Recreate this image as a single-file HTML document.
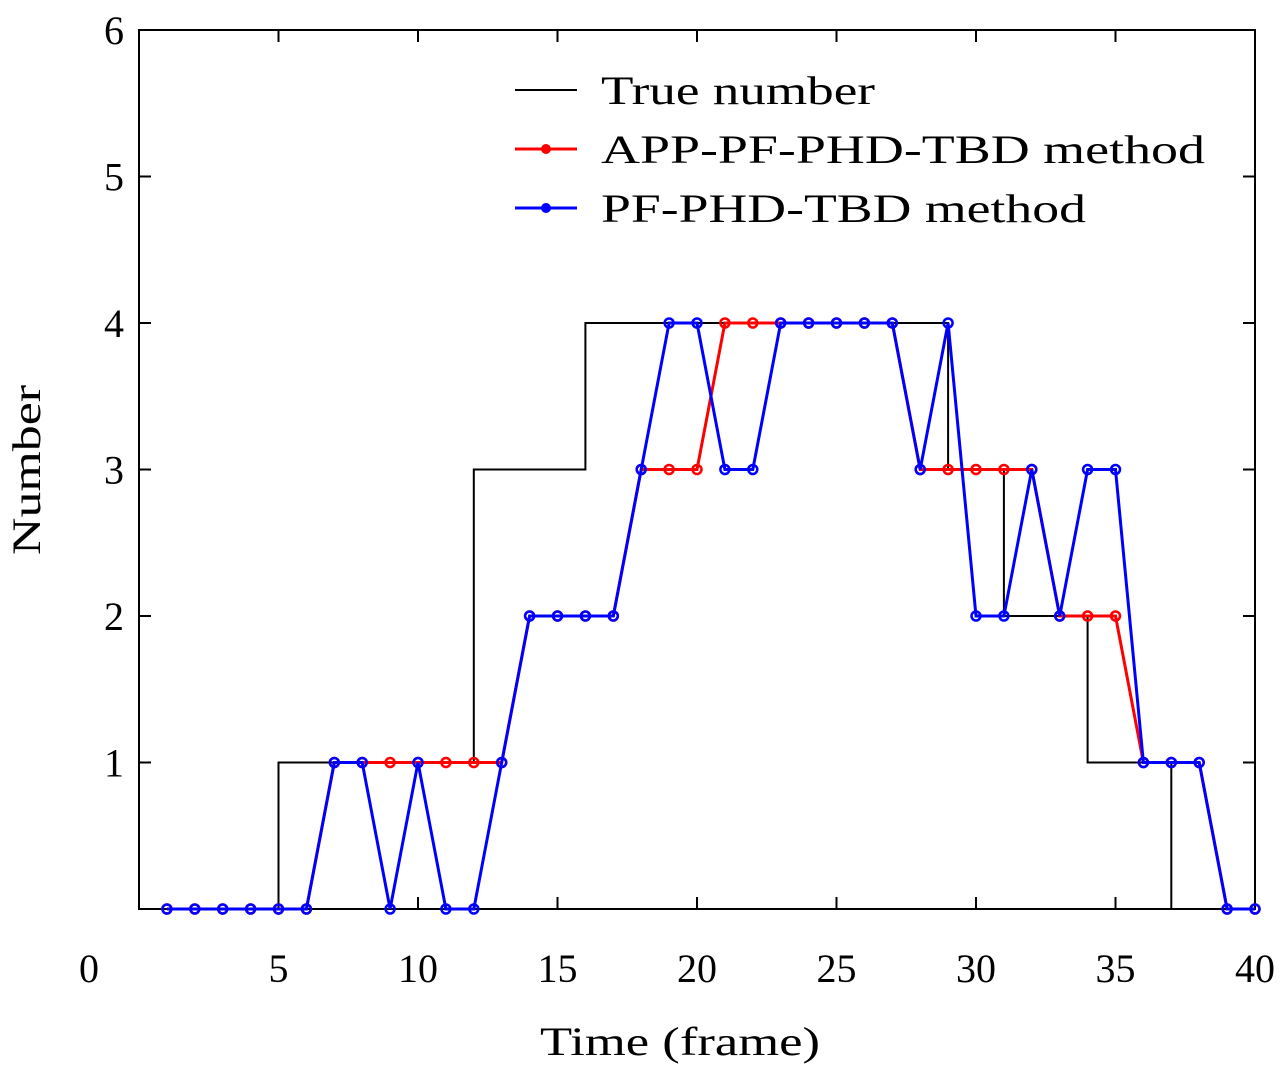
<!DOCTYPE html>
<html><head><meta charset="utf-8"><style>
html,body{margin:0;padding:0;background:#fff;}
svg{display:block;}
text{font-family:"Liberation Serif",serif;font-size:40px;fill:#000;}
</style></head><body>
<svg id="s" width="1280" height="1073" viewBox="0 0 1280 1073" xmlns="http://www.w3.org/2000/svg"></svg>
<script>
var X=function(t){return 139+27.9*t;},Y=function(v){return 909-146.5*v;};
var h='';
h+='<rect x="139" y="30" width="1116" height="879" fill="none" stroke="#000" stroke-width="2"/>';
for(var v=1;v<=6;v++){var y=Y(v);h+='<line x1="139" y1="'+y+'" x2="151" y2="'+y+'" stroke="#000" stroke-width="2"/><line x1="1243" y1="'+y+'" x2="1255" y2="'+y+'" stroke="#000" stroke-width="2"/>';
h+='<text x="124" y="'+(y+14)+'" text-anchor="end">'+v+'</text>';}
for(var t=5;t<=40;t+=5){var x=X(t);h+='<line x1="'+x+'" y1="909" x2="'+x+'" y2="897" stroke="#000" stroke-width="2"/><line x1="'+x+'" y1="30" x2="'+x+'" y2="42" stroke="#000" stroke-width="2"/>';
h+='<text x="'+x+'" y="982" text-anchor="middle">'+t+'</text>';}
h+='<text x="89" y="982" text-anchor="middle">0</text>';
h+='<text x="540" y="1055" textLength="280" lengthAdjust="spacingAndGlyphs">Time (frame)</text>';
h+='<text transform="translate(40,555) rotate(-90)" textLength="170" lengthAdjust="spacingAndGlyphs">Number</text>';
var tr=[[0,0],[5,0],[5,1],[12,1],[12,3],[16,3],[16,4],[29,4],[29,3],[31,3],[31,2],[34,2],[34,1],[37,1],[37,0],[40,0]];
h+='<polyline fill="none" stroke="#000" stroke-width="2" points="'+tr.map(function(p){return X(p[0])+','+Y(p[1]);}).join(' ')+'"/>';
var red=[0,0,0,0,0,0,1,1,1,1,1,1,1,2,2,2,2,3,3,3,4,4,4,4,4,4,4,3,3,3,3,3,2,2,2,1,1,1,0,0];
var blue=[0,0,0,0,0,0,1,1,0,1,0,0,1,2,2,2,2,3,4,4,3,3,4,4,4,4,4,3,4,2,2,3,2,3,3,1,1,1,0,0];
function series(d,c){var s='<polyline fill="none" stroke="'+c+'" stroke-width="3" points="'+d.map(function(v,i){return X(i+1)+','+Y(v);}).join(' ')+'"/>';
d.forEach(function(v,i){s+='<circle cx="'+X(i+1)+'" cy="'+Y(v)+'" r="4.5" fill="none" stroke="'+c+'" stroke-width="2.5"/>';});return s;}
h+=series(red,'#f00');h+=series(blue,'#00f');
h+='<line x1="515" y1="90" x2="577" y2="90" stroke="#000" stroke-width="2"/><text x="601" y="104" textLength="274" lengthAdjust="spacingAndGlyphs">True number</text>';
h+='<line x1="515" y1="149" x2="577" y2="149" stroke="#f00" stroke-width="3"/><circle cx="546" cy="149" r="4.5" fill="#f00" stroke="#f00"/><text x="601" y="163" textLength="604" lengthAdjust="spacingAndGlyphs">APP-PF-PHD-TBD method</text>';
h+='<line x1="515" y1="208" x2="577" y2="208" stroke="#00f" stroke-width="3"/><circle cx="546" cy="208" r="4.5" fill="#00f" stroke="#00f"/><text x="601" y="222" textLength="485" lengthAdjust="spacingAndGlyphs">PF-PHD-TBD method</text>';
document.getElementById('s').innerHTML=h;
</script>
</body></html>
